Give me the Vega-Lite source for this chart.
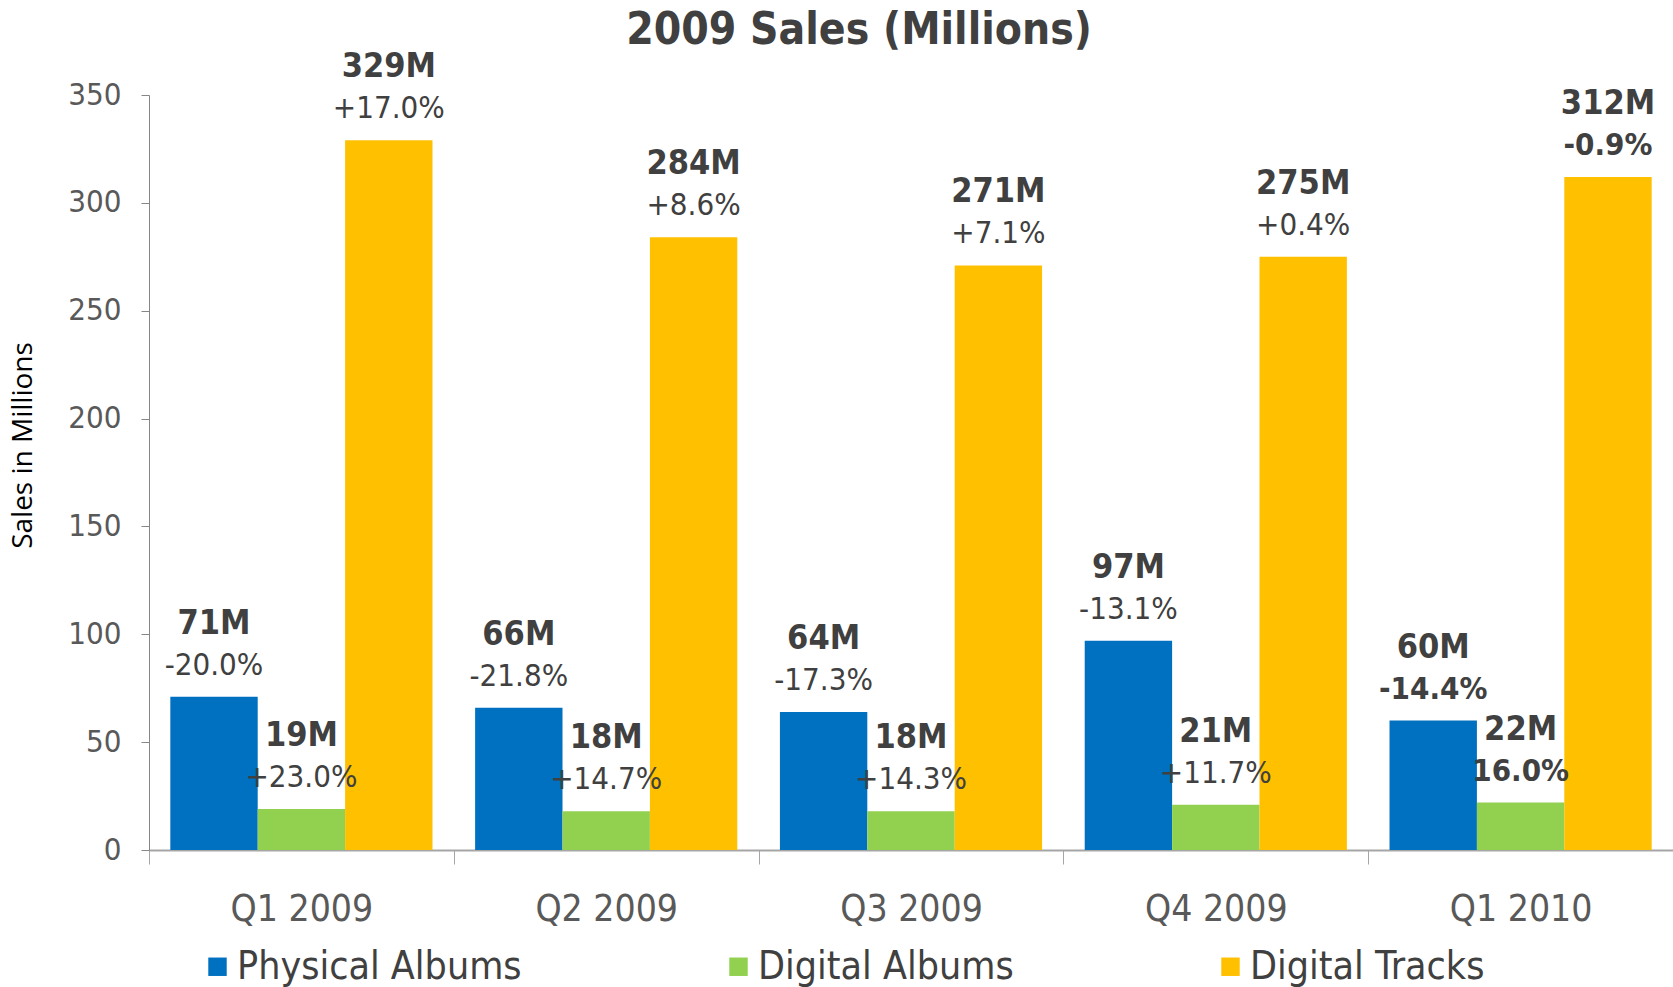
{
  "$schema": "https://vega.github.io/schema/vega-lite/v6.json",
  "width": 1524,
  "height": 755,
  "autosize": {"type": "none"},
  "padding": {"left": 149, "top": 95, "right": 0, "bottom": 137},
  "background": "white",
  "config": {
    "view": {"stroke": null},
    "font": "Liberation Sans Narrow, DejaVu Sans Condensed, Roboto"
  },
  "title": {
    "text": "2009 Sales (Millions)",
    "fontSize": 44,
    "fontWeight": "bold",
    "color": "#404040",
    "anchor": "middle",
    "font": "Liberation Sans Narrow, DejaVu Sans Condensed, Roboto",
    "frame": "group",
    "offset": -3,
    "dx": -52
  },
  "data": {
    "values": [
      {"quarter": "Q1 2009", "type": "Physical Albums", "value": 71, "label": "71M", "change": "-20.0%"},
      {"quarter": "Q1 2009", "type": "Digital Albums", "value": 19, "label": "19M", "change": "+23.0%"},
      {"quarter": "Q1 2009", "type": "Digital Tracks", "value": 329, "label": "329M", "change": "+17.0%"},
      {"quarter": "Q2 2009", "type": "Physical Albums", "value": 66, "label": "66M", "change": "-21.8%"},
      {"quarter": "Q2 2009", "type": "Digital Albums", "value": 18, "label": "18M", "change": "+14.7%"},
      {"quarter": "Q2 2009", "type": "Digital Tracks", "value": 284, "label": "284M", "change": "+8.6%"},
      {"quarter": "Q3 2009", "type": "Physical Albums", "value": 64, "label": "64M", "change": "-17.3%"},
      {"quarter": "Q3 2009", "type": "Digital Albums", "value": 18, "label": "18M", "change": "+14.3%"},
      {"quarter": "Q3 2009", "type": "Digital Tracks", "value": 271, "label": "271M", "change": "+7.1%"},
      {"quarter": "Q4 2009", "type": "Physical Albums", "value": 97, "label": "97M", "change": "-13.1%"},
      {"quarter": "Q4 2009", "type": "Digital Albums", "value": 21, "label": "21M", "change": "+11.7%"},
      {"quarter": "Q4 2009", "type": "Digital Tracks", "value": 275, "label": "275M", "change": "+0.4%"},
      {"quarter": "Q1 2010", "type": "Physical Albums", "value": 60, "label": "60M", "change": "-14.4%"},
      {"quarter": "Q1 2010", "type": "Digital Albums", "value": 22, "label": "22M", "change": "16.0%"},
      {"quarter": "Q1 2010", "type": "Digital Tracks", "value": 312, "label": "312M", "change": "-0.9%"}
    ]
  },
  "encoding": {
    "x": {
      "field": "quarter",
      "type": "nominal",
      "sort": null,
      "scale": {"paddingInner": 0, "paddingOuter": 0},
      "axis": {
        "title": null,
        "labelAngle": 0,
        "labelFontSize": 37,
        "labelColor": "#595959",
        "labelPadding": 27,
        "tickBand": "extent",
        "tickSize": 14,
        "tickColor": "#a6a6a6",
        "domainColor": "#a6a6a6",
        "domainWidth": 2
      }
    },
    "xOffset": {
      "field": "type",
      "type": "nominal",
      "sort": ["Physical Albums", "Digital Albums", "Digital Tracks"],
      "scale": {"paddingInner": 0, "paddingOuter": 0.244}
    },
    "y": {
      "field": "value",
      "type": "quantitative",
      "scale": {"domain": [0, 350], "nice": false},
      "axis": {
        "title": "Sales in Millions",
        "titleFont": "Open Sans",
        "titleFontSize": 28,
        "titleFontWeight": "normal",
        "titleColor": "#000000",
        "titlePadding": 30,
        "titleY": 350,
        "values": [0, 50, 100, 150, 200, 250, 300, 350],
        "grid": false,
        "labelFontSize": 31,
        "labelColor": "#595959",
        "labelPadding": 20,
        "tickSize": 8,
        "tickColor": "#868686",
        "domainColor": "#868686"
      }
    }
  },
  "layer": [
    {
      "mark": {"type": "bar"},
      "encoding": {
        "color": {
          "field": "type",
          "type": "nominal",
          "scale": {
            "domain": ["Physical Albums", "Digital Albums", "Digital Tracks"],
            "range": ["#0070C0", "#92D050", "#FFC000"]
          },
          "legend": {
            "title": null,
            "orient": "none",
            "direction": "horizontal",
            "legendX": 49,
            "legendY": 852,
            "symbolType": "square",
            "symbolSize": 340,
            "symbolStrokeWidth": 0,
            "labelFontSize": 39,
            "labelColor": "#404040",
            "labelOffset": 0,
            "columnPadding": 197,
            "labelLimit": 500
          }
        }
      }
    },
    {
      "mark": {"type": "text", "dy": -73, "fontSize": 34, "fontWeight": "bold", "color": "#404040"},
      "encoding": {"text": {"field": "label"}}
    },
    {
      "transform": [{"filter": "datum.quarter != 'Q1 2010'"}],
      "mark": {"type": "text", "dy": -31, "fontSize": 31, "color": "#404040"},
      "encoding": {"text": {"field": "change"}}
    },
    {
      "transform": [{"filter": "datum.quarter == 'Q1 2010'"}],
      "mark": {"type": "text", "dy": -31, "fontSize": 31, "fontWeight": "bold", "color": "#404040"},
      "encoding": {"text": {"field": "change"}}
    }
  ]
}
